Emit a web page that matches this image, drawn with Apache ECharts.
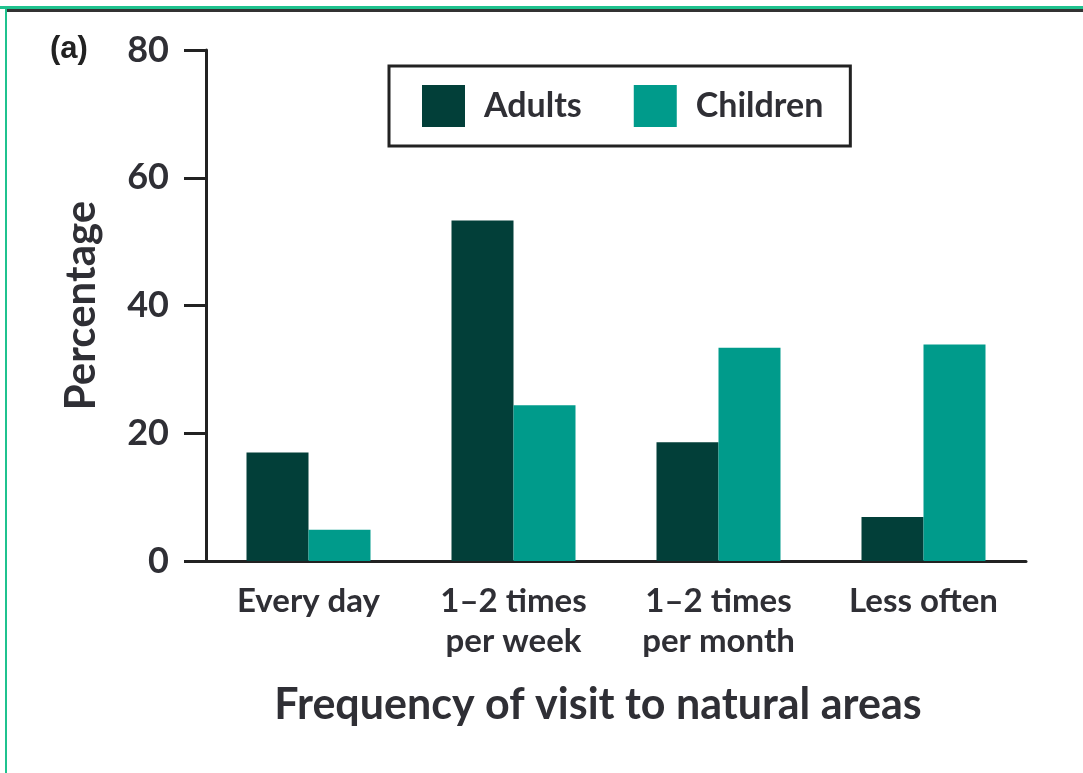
<!DOCTYPE html>
<html>
<head>
<meta charset="utf-8">
<script src="https://cdn.jsdelivr.net/npm/echarts@6/dist/echarts.min.js"></script>
<style>
html,body{margin:0;padding:0;background:#fff;}
#chart{width:1083px;height:773px;}
</style>
</head>
<body>
<div id="chart"></div>
<script>
const categories = ['Every day', '1–2 times\nper week', '1–2 times\nper month', 'Less often'];
const adults = [17, 53.3, 18.6, 6.9];
const children = [4.9, 24.4, 33.4, 33.9];
const seriesNames = ['Adults', 'Children'];
const yTicks = [0, 20, 40, 60, 80];

const FONT = 'Lato, "Open Sans", sans-serif';
const TXT = '#2f2f35';
const W = 'bold';
const chart = echarts.init(document.getElementById('chart'));
chart.setOption({
  backgroundColor: '#fff',
  animation: false,
  grid: {left: 206, right: 57, top: 50, bottom: 212, containLabel: false},
  legend: {
    left: 389, top: 66,
    orient: 'horizontal',
    data: seriesNames,
    itemWidth: 43, itemHeight: 42,
    itemGap: 52,
    padding: [19, 27, 19, 33],
    borderColor: '#222', borderWidth: 3,
    icon: 'rect',
    textStyle: {fontFamily: FONT, fontSize: 34, fontWeight: W, color: TXT, padding: [0, 0, 0, 14]}
  },
  graphic: [
    {type: 'rect', shape: {x: 0, y: 6, width: 1083, height: 3}, style: {fill: '#1fc28e'}},
    {type: 'rect', shape: {x: 6, y: 9, width: 1077, height: 3}, style: {fill: '#333'}},
    {type: 'rect', shape: {x: 5, y: 6, width: 2, height: 767}, style: {fill: '#1fc28e'}},
    {type: 'text', left: 50, top: 34, style: {text: '(a)', font: 'bold 31px "Liberation Sans", Arial, sans-serif', fill: '#222'}}
  ],
  xAxis: {
    type: 'category',
    data: categories,
    name: 'Frequency of visit to natural areas',
    nameLocation: 'middle',
    nameGap: 123,
    nameTextStyle: {fontFamily: FONT, fontSize: 43, fontWeight: W, color: TXT, padding: [0, 36, 0, 0]},
    axisLine: {show: true, lineStyle: {color: '#222', width: 3}},
    axisTick: {show: false},
    axisLabel: {fontFamily: FONT, fontSize: 33, fontWeight: W, color: TXT, margin: 20, lineHeight: 40, interval: 0}
  },
  yAxis: {
    type: 'value',
    min: 0, max: 80, interval: 20,
    name: 'Percentage',
    nameLocation: 'middle',
    nameGap: 104,
    nameTextStyle: {fontFamily: FONT, fontSize: 42, fontWeight: W, color: TXT},
    axisLine: {show: true, lineStyle: {color: '#222', width: 3}},
    axisTick: {show: true, length: 22, lineStyle: {color: '#222', width: 3}},
    axisLabel: {fontFamily: FONT, fontSize: 36, fontWeight: W, color: TXT, margin: 37,
      formatter: v => yTicks.includes(v) ? String(v) : ''},
    splitLine: {show: false}
  },
  series: [
    {name: seriesNames[0], type: 'bar', data: adults, barWidth: 62, barGap: '0%', itemStyle: {color: '#023f39'}},
    {name: seriesNames[1], type: 'bar', data: children, barWidth: 62, barGap: '0%', itemStyle: {color: '#009b8b'}}
  ]
});
</script>
</body>
</html>
